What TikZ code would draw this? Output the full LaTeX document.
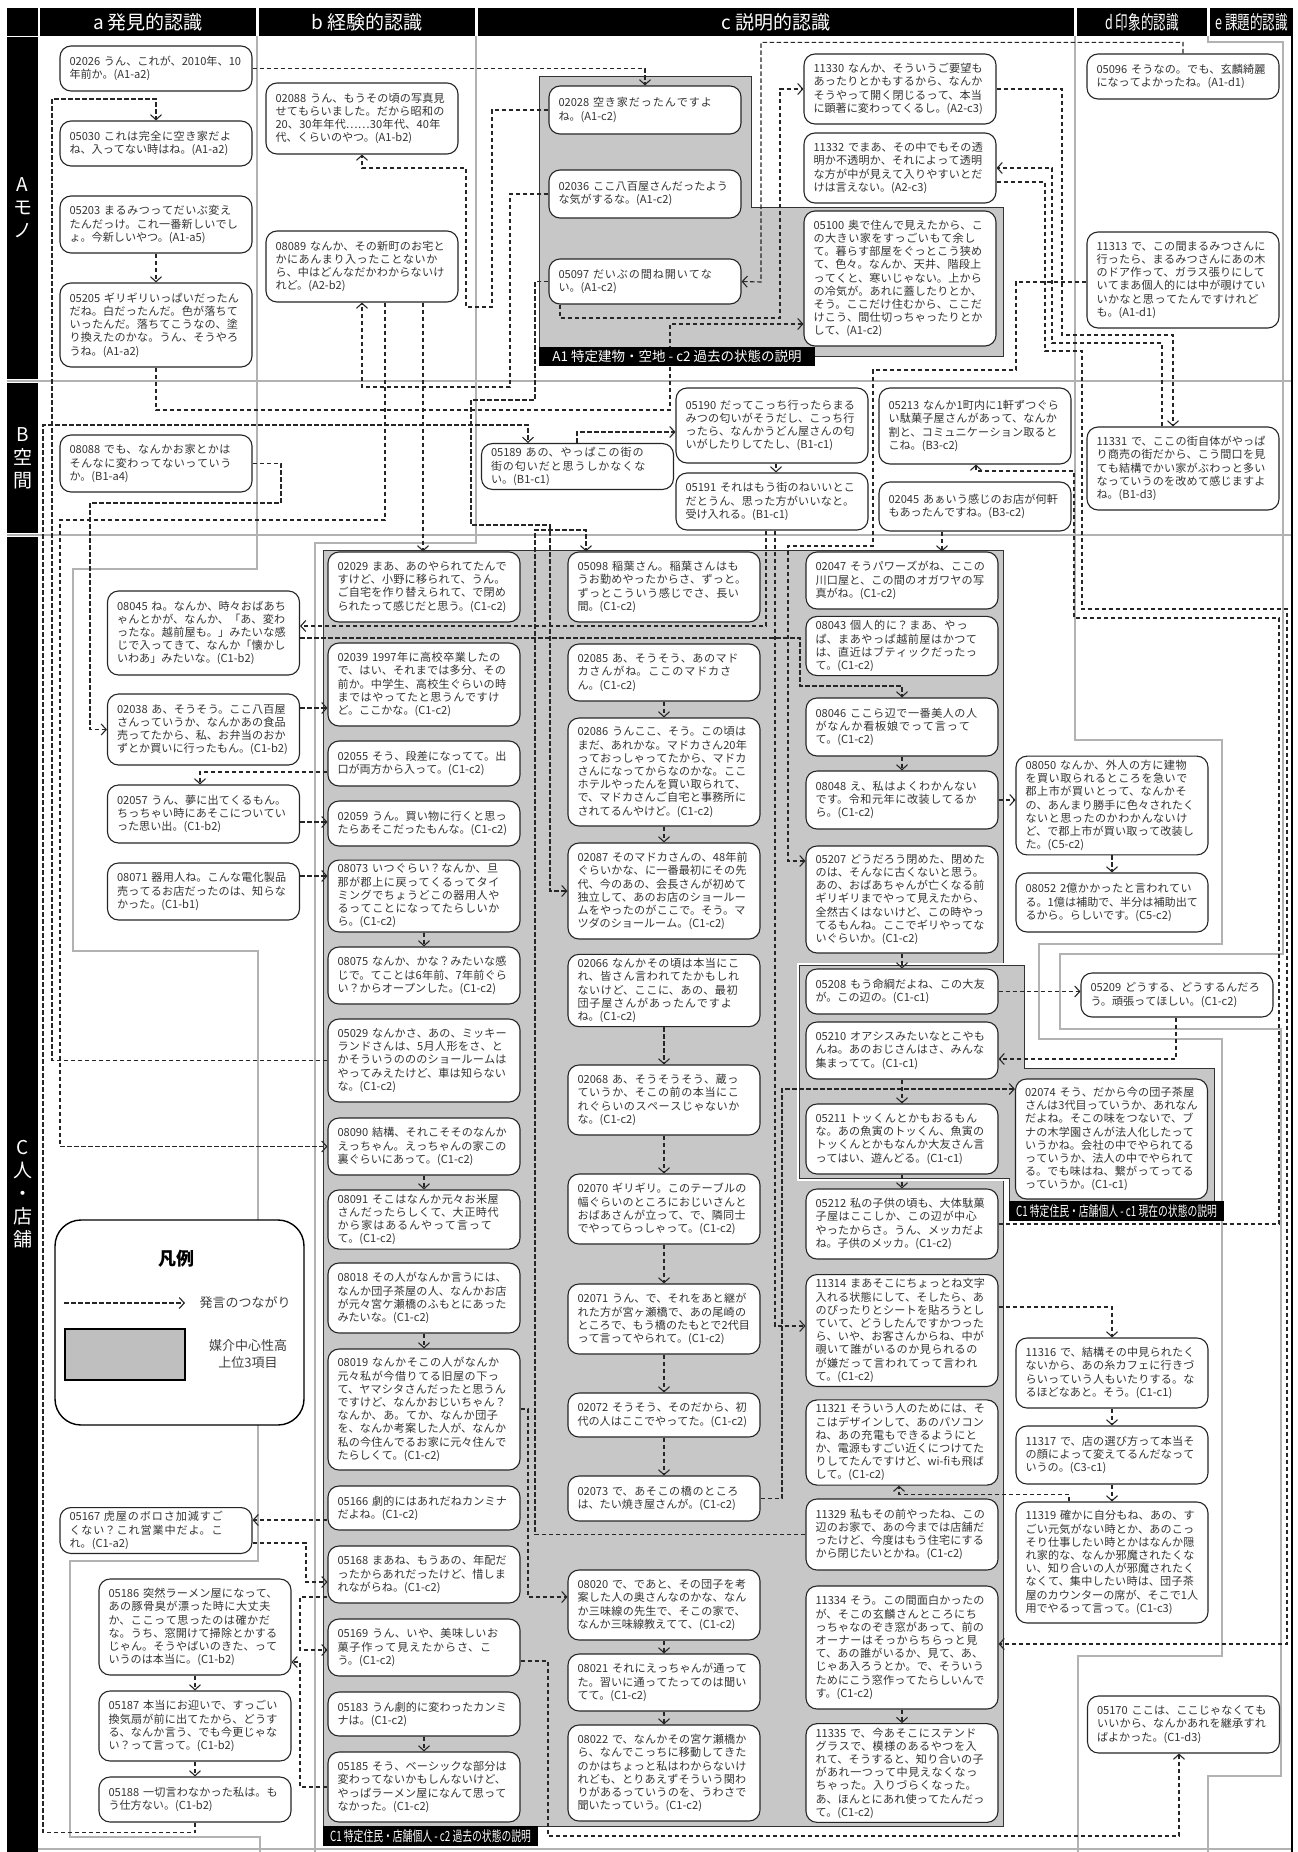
\documentclass[tikz,border=0pt]{standalone}
\usepackage{fontspec}
\setmainfont{Noto Sans CJK JP}
\usepackage{graphicx}
\usepackage{xcolor}
\usepackage{tikz}
\usetikzlibrary{arrows.meta}
\XeTeXlinebreaklocale "ja"
\XeTeXlinebreakskip=0pt plus 1pt
\pgfdeclarelayer{back}
\pgfdeclarelayer{links}
\pgfsetlayers{back,links,main}

\begin{document}
\begin{tikzpicture}[
    x=1pt, y=-1pt,
    utt/.style={draw=black!85, fill=white, rounded corners=11pt, line width=1.1pt, text width=173pt, inner xsep=9.5pt, inner ysep=4pt, align=left, text=black!80, font=\fontsize{11.1}{13.2}\selectfont},
    head/.style={fill=black, text=white, minimum height=28, inner sep=0pt, font=\fontsize{19}{19}\selectfont},
    rowhead/.style={fill=black, text=white, minimum width=31, inner sep=0pt, align=center, font=\fontsize{19}{23}\selectfont},
    tag/.style={fill=black, text=white, inner sep=0pt},
    region/.style={fill=black!22, draw=black!80, line width=0.9pt},
    lane/.style={draw=black!30, line width=2.4pt},
    conn/.style={draw=black!85, line width=1.1pt, dash pattern=on 4.5pt off 2.5pt, -{Straight Barb[length=5pt, width=11pt]}},
  ]
    \useasboundingbox (0,0) rectangle (1298,1852);

    % Lanes and regions
    \begin{pgfonlayer}{back}
    \draw[lane] (7,381) -- (1292,381);
    \draw[lane] (7,535) -- (1292,535);
    \draw[lane] (38,1849) -- (1292,1849);
    \draw[lane] (257,36) -- (257,569) -- (73,569) -- (73,951) -- (258,951) -- (258,1561) -- (70,1561) -- (70,1837) -- (260,1837) -- (260,1852);
    \draw[lane] (476,36) -- (476,543) -- (315,543) -- (315,1852);
    \draw[lane] (1075,36) -- (1075,740) -- (1222,740) -- (1222,944) -- (1039,944) -- (1039,1039) -- (1222,1039) -- (1222,1656) -- (1078,1656) -- (1078,1852);
    \draw[lane] (1208,36) -- (1208,42) -- (1283,42) -- (1283,954) -- (1060,954) -- (1060,1029) -- (1281,1029) -- (1281,1776) -- (1208,1776) -- (1208,1852);
    \draw[region] (539,76) -- (751,76) -- (751,207) -- (1003,207) -- (1003,356) -- (539,356) -- cycle;
    \draw[region] (323,550) rectangle (1003,1826);
    \draw[white, line width=5pt] (799,965) -- (1024,965) -- (1024,1068) -- (1214,1068) -- (1214,1203) -- (1009,1203) -- (1009,1178) -- (799,1178) -- cycle;
    \draw[region] (799,965) -- (1024,965) -- (1024,1068) -- (1214,1068) -- (1214,1203) -- (1009,1203) -- (1009,1178) -- (799,1178) -- cycle;
    \end{pgfonlayer}

    % Headers
    \node[head, minimum width=31] (hCorner) at (22.5,22) {};
    \node[head, minimum width=216] (hA) at (148,22) {a 発見的認識};
    \node[head, minimum width=216] (hB) at (367,22) {b 経験的認識};
    \node[head, minimum width=596] (hC) at (776,22) {c 説明的認識};
    \node[head, minimum width=130] (hD) at (1142,22) {\scalebox{0.66}[1]{d 印象的認識}};
    \node[head, minimum width=83] (hE) at (1251.5,22) {\scalebox{0.66}[1]{e 課題的認識}};
    \node[rowhead, minimum height=342] (rA) at (22.5,208) {A\\モ\\ノ};
    \node[rowhead, minimum height=150] (rB) at (22.5,458) {B\\空\\間};
    \node[rowhead, minimum height=1315] (rC) at (22.5,1194.5) {C\\人\\・\\店\\舗};
    \draw[line width=2.5pt] (1292,36) -- (1292,1852);

    % Region tags
    \node[tag, minimum width=276, minimum height=19, font=\fontsize{13.5}{13.5}\selectfont] (tA1) at (677,356.5) {A1 特定建物・空地 - c2 過去の状態の説明};
    \node[tag, minimum width=215, minimum height=20, font=\fontsize{14}{14}\selectfont] (tC1now) at (1116.5,1211) {\scalebox{0.7}[1]{C1 特定住民・店舗個人 - c1 現在の状態の説明}};
    \node[tag, minimum width=215, minimum height=20, font=\fontsize{14}{14}\selectfont] (tC1past) at (430.5,1836) {\scalebox{0.7}[1]{C1 特定住民・店舗個人 - c2 過去の状態の説明}};

    % Row A
    \node[utt, minimum height=45] (n02026) at (156,68.5) {02026 うん、これが、2010年、10年前か。\mbox{(A1-a2)}};
    \node[utt, minimum height=45] (n05030) at (156,143.5) {05030 これは完全に空き家だよね、入ってない時はね。\mbox{(A1-a2)}};
    \node[utt, minimum height=57] (n05203) at (156,224.5) {05203 まるみつってだいぶ変えたんだっけ。これ一番新しいでしょ。今新しいやつ。\mbox{(A1-a5)}};
    \node[utt, minimum height=84] (n05205) at (156,325) {05205 ギリギリいっぱいだったんだね。白だったんだ。色が落ちていったんだ。落ちてこうなの、塗り換えたのかな。うん、そうやろうね。\mbox{(A1-a2)}};
    \node[utt, minimum height=71] (n02088) at (362,118.5) {02088 うん、もうその頃の写真見せてもらいました。だから昭和の20、30年年代……30年代、40年代、くらいのやつ。\mbox{(A1-b2)}};
    \node[utt, minimum height=71] (n08089) at (362,266.5) {08089 なんか、その新町のお宅とかにあんまり入ったことないから、中はどんなだかわからないけれど。\mbox{(A2-b2)}};
    \node[utt, minimum height=48] (n02028) at (645,110) {02028 空き家だったんですよね。\mbox{(A1-c2)}};
    \node[utt, minimum height=48] (n02036) at (645,194) {02036 ここ八百屋さんだったような気がするな。\mbox{(A1-c2)}};
    \node[utt, minimum height=45] (n05097) at (645,281.5) {05097 だいぶの間ね開いてない。\mbox{(A1-c2)}};
    \node[utt, minimum height=70] (n11330) at (900,89) {11330 なんか、そういうご要望もあったりとかもするから、なんかそうやって開く閉じるって、本当に顕著に変わってくるし。\mbox{(A2-c3)}};
    \node[utt, minimum height=70] (n11332) at (900,168) {11332 でまあ、その中でもその透明か不透明か、それによって透明な方が中が見えて入りやすいとだけは言えない。\mbox{(A2-c3)}};
    \node[utt, minimum height=135] (n05100) at (900,278.5) {05100 奥で住んで見えたから、この大きい家をすっごいもて余して。暮らす部屋をぐっとこう狭めて、色々。なんか、天井、階段上ってくと、寒いじゃない。上からの冷気が。あれに蓋したりとか、そう。ここだけ住むから、ここだけこう、間仕切っちゃったりとかして、\mbox{(A1-c2)}};
    \node[utt, minimum height=45] (n05096) at (1183,76.5) {05096 そうなの。でも、玄麟綺麗になってよかったね。\mbox{(A1-d1)}};
    \node[utt, minimum height=96] (n11313) at (1183,280) {11313 で、この間まるみつさんに行ったら、まるみつさんにあの木のドア作って、ガラス張りにしていてまあ個人的には中が覗けていいかなと思ってたんですけれども。\mbox{(A1-d1)}};

    % Row B
    \node[utt, minimum height=57] (n08088) at (156,463.5) {08088 でも、なんかお家とかはそんなに変わってないっていうか。\mbox{(B1-a4)}};
    \node[utt, minimum height=45] (n05189) at (577.5,466.5) {05189 あの、やっぱこの街の街の匂いだと思うしかなくない。\mbox{(B1-c1)}};
    \node[utt, minimum height=75] (n05190) at (772,425.5) {05190 だってこっち行ったらまるみつの匂いがそうだし、こっち行ったら、なんかうどん屋さんの匂いがしたりしてたし、\mbox{(B1-c1)}};
    \node[utt, minimum height=57] (n05191) at (772,501.5) {05191 それはもう街のねいいとこだとうん、思った方がいいなと。受け入れる。\mbox{(B1-c1)}};
    \node[utt, minimum height=76] (n05213) at (975,426) {05213 なんか1町内に1軒ずつぐらい駄菓子屋さんがあって、なんか割と、コミュニケーション取るとこね。\mbox{(B3-c2)}};
    \node[utt, minimum height=49] (n02045) at (975,506.5) {02045 あぁいう感じのお店が何軒もあったんですね。\mbox{(B3-c2)}};
    \node[utt, minimum height=83] (n11331) at (1183,468.5) {11331 で、ここの街自体がやっぱり商売の街だから、こう間口を見ても結構でかい家がぶわっと多いなっていうのを改めて感じますよね。\mbox{(B1-d3)}};

    % Row C, b
    \node[utt, minimum height=84] (n08045) at (203.5,633) {08045 ね。なんか、時々おばあちゃんとかが、なんか、「あ、変わったな。越前屋も。」みたいな感じで入ってきて、なんか「懐かしいわあ」みたいな。\mbox{(C1-b2)}};
    \node[utt, minimum height=71] (n02038) at (203.5,729.5) {02038 あ、そうそう。ここ八百屋さんっていうか、なんかあの食品売ってたから、私、お弁当のおかずとか買いに行ったもん。\mbox{(C1-b2)}};
    \node[utt, minimum height=58] (n02057) at (203.5,814) {02057 うん、夢に出てくるもん。ちっちゃい時にあそこについていった思い出。\mbox{(C1-b2)}};
    \node[utt, minimum height=57] (n08071) at (203.5,891.5) {08071 器用人ね。こんな電化製品売ってるお店だったのは、知らなかった。\mbox{(C1-b1)}};
    \node[utt, minimum height=45] (n05167) at (156,1530.5) {05167 虎屋のボロさ加減すごくない？これ営業中だよ。これ。\mbox{(C1-a2)}};
    \node[utt, minimum height=96] (n05186) at (195,1627) {05186 突然ラーメン屋になって、あの豚骨臭が漂った時に大丈夫か、ここって思ったのは確かだな。うち、窓開けて掃除とかするじゃん。そうやばいのきた、っていうのは本当に。\mbox{(C1-b2)}};
    \node[utt, minimum height=70] (n05187) at (195,1726) {05187 本当にお迎いで、すっごい換気扇が前に出てたから、どうする、なんか言う、でも今更じゃない？って言って。\mbox{(C1-b2)}};
    \node[utt, minimum height=45] (n05188) at (195,1799.5) {05188 一切言わなかった私は。もう仕方ない。\mbox{(C1-b2)}};

    % Row C, c2 first column
    \node[utt, minimum height=70] (n02029) at (424,587) {02029 まあ、あのやられてたんですけど、小野に移られて、うん。ご自宅を作り替えられて、で閉められたって感じだと思う。\mbox{(C1-c2)}};
    \node[utt, minimum height=83] (n02039) at (424,684.5) {02039 1997年に高校卒業したので、はい、それまでは多分、その前か。中学生、高校生ぐらいの時まではやってたと思うんですけど。ここかな。\mbox{(C1-c2)}};
    \node[utt, minimum height=45] (n02055) at (424,763.5) {02055 そう、段差になってて。出口が両方から入って。\mbox{(C1-c2)}};
    \node[utt, minimum height=45] (n02059) at (424,823.5) {02059 うん。買い物に行くと思ったらあそこだったもんな。\mbox{(C1-c2)}};
    \node[utt, minimum height=70] (n08073) at (424,896) {08073 いつぐらい？なんか、旦那が郡上に戻ってくるってタイミングでちょうどこの器用人やるってことになってたらしいから。\mbox{(C1-c2)}};
    \node[utt, minimum height=57] (n08075) at (424,975.5) {08075 なんか、かな？みたいな感じで。てことは6年前、7年前ぐらい？からオープンした。\mbox{(C1-c2)}};
    \node[utt, minimum height=83] (n05029) at (424,1060.5) {05029 なんかさ、あの、ミッキーランドさんは、5月人形をさ、とかそういうのののショールームはやってみえたけど、車は知らないな。\mbox{(C1-c2)}};
    \node[utt, minimum height=57] (n08090) at (424,1146.5) {08090 結構、それこそそのなんかえっちゃん。えっちゃんの家この裏ぐらいにあって。\mbox{(C1-c2)}};
    \node[utt, minimum height=57] (n08091) at (424,1219.5) {08091 そこはなんか元々お米屋さんだったらしくて、大正時代から家はあるんやって言ってて。\mbox{(C1-c2)}};
    \node[utt, minimum height=70] (n08018) at (424,1298) {08018 その人がなんか言うには、なんか団子茶屋の人、なんかお店が元々宮ケ瀬橋のふもとにあったみたいな。\mbox{(C1-c2)}};
    \node[utt, minimum height=121] (n08019) at (424,1409.5) {08019 なんかそこの人がなんか元々私が今借りてる旧屋の下って、ヤマシタさんだったと思うんですけど、なんかおじいちゃん？なんか、あ。てか、なんか団子を、なんか考案した人が、なんか私の今住んでるお家に元々住んでたらしくて。\mbox{(C1-c2)}};
    \node[utt, minimum height=44] (n05166) at (424,1508) {05166 劇的にはあれだねカンミナだよね。\mbox{(C1-c2)}};
    \node[utt, minimum height=57] (n05168) at (424,1574.5) {05168 まあね、もうあの、年配だったからあれだったけど、惜しまれながらね。\mbox{(C1-c2)}};
    \node[utt, minimum height=57] (n05169) at (424,1647.5) {05169 うん、いや、美味しいお菓子作って見えたからさ、こう。\mbox{(C1-c2)}};
    \node[utt, minimum height=44] (n05183) at (424,1714) {05183 うん劇的に変わったカンミナは。\mbox{(C1-c2)}};
    \node[utt, minimum height=70] (n05185) at (424,1787) {05185 そう、ベーシックな部分は変わってないかもしんないけど、やっぱラーメン屋になんて思ってなかった。\mbox{(C1-c2)}};

    % Row C, c2 second column
    \node[utt, minimum height=70] (n05098) at (664,587) {05098 稲葉さん。稲葉さんはもうお勤めやったからさ、ずっと。ずっとこういう感じでさ、長い間。\mbox{(C1-c2)}};
    \node[utt, minimum height=57] (n02085) at (664,672.5) {02085 あ、そうそう、あのマドカさんがね。ここのマドカさん。\mbox{(C1-c2)}};
    \node[utt, minimum height=108] (n02086) at (664,772) {02086 うんここ、そう。この頃はまだ、あれかな。マドカさん20年っておっしゃってたから、マドカさんになってからなのかな。ここホテルやったんを買い取られて、で、マドカさんご自宅と事務所にされてるんやけど。\mbox{(C1-c2)}};
    \node[utt, minimum height=96] (n02087) at (664,891) {02087 そのマドカさんの、48年前ぐらいかな、に一番最初にその先代、今のあの、会長さんが初めて独立して、あのお店のショールームをやったのがここで。そう。マツダのショールーム。\mbox{(C1-c2)}};
    \node[utt, minimum height=71] (n02066) at (664,990.5) {02066 なんかその頃は本当にこれ、皆さん言われてたかもしれないけど、ここに、あの、最初団子屋さんがあったんですよね。\mbox{(C1-c2)}};
    \node[utt, minimum height=70] (n02068) at (664,1100) {02068 あ、そうそうそう、蔵っていうか、そこの前の本当にこれぐらいのスペースじゃないかな。\mbox{(C1-c2)}};
    \node[utt, minimum height=70] (n02070) at (664,1209) {02070 ギリギリ。このテーブルの幅ぐらいのところにおじいさんとおばあさんが立って、で、隣同士でやってらっしゃって。\mbox{(C1-c2)}};
    \node[utt, minimum height=70] (n02071) at (664,1319) {02071 うん、で、それをあと継がれた方が宮ヶ瀬橋で、あの尾崎のところで、もう橋のたもとで2代目って言ってやられて。\mbox{(C1-c2)}};
    \node[utt, minimum height=44] (n02072) at (664,1415) {02072 そうそう、そのだから、初代の人はここでやってた。\mbox{(C1-c2)}};
    \node[utt, minimum height=45] (n02073) at (664,1498.5) {02073 で、あそこの橋のところは、たい焼き屋さんが。\mbox{(C1-c2)}};
    \node[utt, minimum height=70] (n08020) at (664,1605) {08020 で、であと、その団子を考案した人の奥さんなのかな、なんか三味線の先生で、そこの家で、なんか三味線教えてて、\mbox{(C1-c2)}};
    \node[utt, minimum height=57] (n08021) at (664,1682.5) {08021 それにえっちゃんが通ってた。習いに通ってたってのは聞いてて。\mbox{(C1-c2)}};
    \node[utt, minimum height=96] (n08022) at (664,1773) {08022 で、なんかその宮ケ瀬橋から、なんでこっちに移動してきたのかはちょっと私はわからないけれども、とりあえずそういう関わりがあるっていうのを、うわさで聞いたっていう。\mbox{(C1-c2)}};

    % Row C, third column
    \node[utt, minimum height=57] (n02047) at (902,580.5) {02047 そうパワーズがね、ここの川口屋と、この間のオガワヤの写真がね。\mbox{(C1-c2)}};
    \node[utt, minimum height=58] (n08043) at (902,646) {08043 個人的に？まあ、やっぱ、まあやっぱ越前屋はかつては、直近はブティックだったって。\mbox{(C1-c2)}};
    \node[utt, minimum height=58] (n08046) at (902,727) {08046 ここら辺で一番美人の人がなんか看板娘でって言ってて。\mbox{(C1-c2)}};
    \node[utt, minimum height=58] (n08048) at (902,800) {08048 え、私はよくわかんないです。令和元年に改装してるから。\mbox{(C1-c2)}};
    \node[utt, minimum height=107] (n05207) at (902,899.5) {05207 どうだろう閉めた、閉めたのは、そんなに古くないと思う。あの、おばあちゃんが亡くなる前ギリギリまでやって見えたから、全然古くはないけど、この時やってるもんね。ここでギリやってないぐらいか。\mbox{(C1-c2)}};
    \node[utt, minimum height=45] (n05208) at (902,991.5) {05208 もう命綱だよね、この大友が。この辺の。\mbox{(C1-c1)}};
    \node[utt, minimum height=57] (n05210) at (902,1050.5) {05210 オアシスみたいなとこやもんね。あのおじさんはさ、みんな集まってて。\mbox{(C1-c1)}};
    \node[utt, minimum height=70] (n05211) at (902,1139) {05211 トッくんとかもおるもんな。あの魚寅のトッくん、魚寅のトッくんとかもなんか大友さん言ってはい、遊んどる。\mbox{(C1-c1)}};
    \node[utt, minimum height=70] (n05212) at (902,1224) {05212 私の子供の頃も、大体駄菓子屋はここしか、この辺が中心やったからさ。うん、メッカだよね。子供のメッカ。\mbox{(C1-c2)}};
    \node[utt, minimum height=109] (n11314) at (902,1330.5) {11314 まあそこにちょっとね文字入れる状態にして、そしたら、あのぴったりとシートを貼ろうとしていて、どうしたんですかつったら、いや、お客さんからね、中が覗いて誰がいるのか見られるのが嫌だって言われてって言われて。\mbox{(C1-c2)}};
    \node[utt, minimum height=83] (n11321) at (902,1442.5) {11321 そういう人のためには、そこはデザインして、あのパソコンね、あの充電もできるようにとか、電源もすごい近くにつけてたりしてたんですけど、wi-fiも飛ばして。\mbox{(C1-c2)}};
    \node[utt, minimum height=71] (n11329) at (902,1534.5) {11329 私もその前やったね、この辺のお家で、あの今までは店舗だったけど、今度はもう住宅にするから閉じたいとかね。\mbox{(C1-c2)}};
    \node[utt, minimum height=123] (n11334) at (902,1647.5) {11334 そう。この間面白かったのが、そこの玄麟さんところにちっちゃなのぞき窓があって、前のオーナーはそっからちらっと見て、あの誰がいるか、見て、あ、じゃあ入ろうとか。で、そういうためにこう窓作ってたらしいんです。\mbox{(C1-c2)}};
    \node[utt, minimum height=96] (n11335) at (902,1773) {11335 で、今あそこにステンドグラスで、模様のあるやつを入れて、そうすると、知り合いの子があれ一つって中見えなくなっちゃった。入りづらくなった。あ、ほんとにあれ使ってたんだって。\mbox{(C1-c2)}};

    % Row C, right columns
    \node[utt, minimum height=95] (n08050) at (1112,805.5) {08050 なんか、外人の方に建物を買い取られるところを急いで郡上市が買いとって、なんかその、あんまり勝手に色々されたくないと思ったのかわかんないけど、で郡上市が買い取って改装した。\mbox{(C5-c2)}};
    \node[utt, minimum height=59] (n08052) at (1112,902.5) {08052 2億かかったと言われている。1億は補助で、半分は補助出てるから。らしいです。\mbox{(C5-c2)}};
    \node[utt, minimum height=44] (n05209) at (1177,995) {05209 どうする、どうするんだろう。頑張ってほしい。\mbox{(C1-c2)}};
    \node[utt, minimum height=120] (n02074) at (1111.5,1139) {02074 そう、だから今の団子茶屋さんは3代目っていうか、あれなんだよね。そこの味をつないで、ブナの木学園さんが法人化したっていうかね。会社の中でやられてるっていうか、法人の中でやられてる。でも味はね、繋がってってるっていうか。\mbox{(C1-c1)}};
    \node[utt, minimum height=70] (n11316) at (1112,1373) {11316 で、結構その中見られたくないから、あの糸カフェに行きづらいっていう人もいたりする。なるほどなあと。そう。\mbox{(C1-c1)}};
    \node[utt, minimum height=58] (n11317) at (1112,1455) {11317 で、店の選び方って本当その顔によって変えてるんだなっていうの。\mbox{(C3-c1)}};
    \node[utt, minimum height=121] (n11319) at (1112,1562.5) {11319 確かに自分もね、あの、すごい元気がない時とか、あのこっそり仕事したい時とかはなんか隠れ家的な、なんか邪魔されたくない、知り合いの人が邪魔されたくなくて、集中したい時は、団子茶屋のカウンターの席が、そこで1人用でやるって言って。\mbox{(C1-c3)}};
    \node[utt, minimum height=57] (n05170) at (1183.5,1724.5) {05170 ここは、ここじゃなくてもいいから、なんかあれを継承すればよかった。\mbox{(C1-d3)}};

    % Legend
    \node[draw, fill=white, line width=1.4pt, rounded corners=26pt, minimum width=249, minimum height=205] (legend) at (179.5,1322.5) {};
    \node[font=\fontsize{18}{18}\selectfont\bfseries] (lgTitle) at (176,1259) {凡例};
    \coordinate (lgA) at (64,1303);
    \coordinate (lgB) at (185,1303);
    \draw[conn] (lgA) -- (lgB);
    \node[anchor=west, text=black!75, font=\fontsize{13}{13}\selectfont] (lgConn) at (196,1303) {発言のつながり};
    \node[draw, fill=black!25, line width=1.2pt, minimum width=120, minimum height=51] (lgBox) at (125,1354.5) {};
    \node[align=center, text=black!75, font=\fontsize{13}{17}\selectfont] (lgBoxText) at (248,1354) {媒介中心性高\\上位3項目};

    % Arrows
    \begin{pgfonlayer}{links}
    % row A
    \draw[conn] (n02026.east) -| (n02028.north);
    \draw[conn] (n05096.north) -- ++(0,-11) -| (761,282) -- (n05097.east);
    \draw[conn] (n05029.west) -| (52,99) -| (n05030.north);
    \draw[conn] (n05203) -- (n05205);
    \draw[conn] (n05205.south) -- (156,410) -| (670,324) -- (n05100.west |- 670,324);
    \draw[conn] (n02028.west) -- (492,110) -- (492,307) -- (466,307) -- (466,168) -| (n02088.south);
    \draw[conn] (n02036.west) -| (510,387) -| (n08089.south);
    \draw[conn] (n05097.south -| 560,0) -- (560,318) -| (780,89) -- (n11330.west);
    \draw[conn] (n05097.west) -- (535,281.5) -- (535,400) -- (471,400) -- (471,525) -- (550,525) |- (n02087.west);
    \draw[conn] (n11330.east) -- (1062,89) |- (1173,335) -- (n11331.north -| 1173,0);
    \draw[conn] (n11331.north -| 1162,0) |- (1052,343) |- (n11332.east |- 0,168);
    \draw[conn] (n11332.east |- 0,182) -- (1045,182) -- (1045,351) -- (1082,351) -- (1082,609) -- (1287,609) |- (n11334.east |- 0,1644);
    \draw[conn] (n11313.west |- 0,282) -- (1016,282) -- (1016,370) -- (873,370) -- (873,546) -- (788,546) |- (n05207.west |- 0,861);
    % row B
    \draw[conn] (n05212.east) -- (1279,1224) -- (1279,618) -- (1074,618) -- (1074,471) -| (n05213.south -| 976,0);
    \draw[conn] (n05188.south) -- ++(0,10) -| (43,425) -| (n05189.north -| 528,0);
    \draw[conn] (n08088.east) -| (281,503) -| (90,729.5) -- (n02038.west);
    \draw[conn] (n08089.south -| 423,0) -- (n02029.north -| 423,0);
    \draw[conn] (n08089.south -| 385,0) -- (385,520) -| (60,1146.5) -- (n08090.west);
    \draw[conn] (n05189.north -| 577,0) -- (577,432) -- (n05190.west |- 0,432);
    \draw[conn] (n05190.south -| 776,0) -- (n05191.north -| 776,0);
    \draw[conn] (n05191.south -| 766,0) -- (766,626) -- (n08045.east |- 0,626);
    \draw[conn] (n05191.south -| 775,0) -- (775,1326) -- (n11314.west |- 0,1326);
    \draw[conn] (n02045.south -| 942,0) -- (n02047.north -| 942,0);
    % row C
    \draw[conn] (n08045.east |- 0,638) -- (800,638) -- (800,686) -| (n08046.north);
    \draw[conn] (n02038.east |- 0,708) -- (n02039.west |- 0,708);
    \draw[conn] (n02055.west |- 0,772) -| (n02057.north -| 200,0);
    \draw[conn] (n02057.east |- 0,822) -- (n02059.west |- 0,822);
    \draw[conn] (n08071.east |- 0,876) -- (n08073.west |- 0,876);
    \draw[conn] (n08073) -- (n08075);
    \draw[conn] (n08090) -- (n08091);
    \draw[conn] (n08018) -- (n08019);
    \draw[conn] (n05183) -- (n05185);
    \draw[conn] (n05166.west |- 0,1520) -- (n05167.east |- 0,1520);
    \draw[conn] (n05167.east |- 0,1543) -- (306,1543) |- (n05168.west |- 0,1582);
    \draw[conn] (n05168.west |- 0,1597) -- (300,1597) |- (n05169.west |- 0,1650);
    \draw[conn] (n05185.west) -- (300,1787) |- (n05186.east |- 0,1662);
    \draw[conn] (n05186) -- (n05187);
    \draw[conn] (n05187) -- (n05188);
    \draw[conn] (n08019.east |- 0,1409) -- (528,1409) |- (n08020.west |- 0,1597);
    \draw[conn] (n05169.east |- 0,1661) -- (548,1661) -- (548,1836) -| (n05170.south -| 1179,0);
    \draw[conn] (n11329.west) -- (535,1534.5) -- (535,530) -| (n05098.north -| 586,0);
    \draw[conn] (n02085) -- (n02086);
    \draw[conn] (n02086) -- (n02087);
    \draw[conn] (n02066) -- (n02068);
    \draw[conn] (n02068) -- (n02070);
    \draw[conn] (n02070) -- (n02071);
    \draw[conn] (n02071) -- (n02072);
    \draw[conn] (n02072) -- (n02073);
    \draw[conn] (n08020) -- (n08021);
    \draw[conn] (n08021) -- (n08022);
    \draw[conn] (n02073.east) -- (782,1498.5) -- (782,1089) -- (n02074.west |- 0,1089);
    \draw[conn] (n08046) -- (n08048);
    \draw[conn] (n05207) -- (n05208);
    \draw[conn] (n05210) -- (n05211);
    \draw[conn] (n05211) -- (n05212);
    \draw[conn] (n11334) -- (n11335);
    \draw[conn] (n05208.east) -- (n05209.west |- n05208.east);
    \draw[conn] (n05209.south -| 1176,0) |- (n05210.east |- 0,1059);
    \draw[conn] (n08048.east) -- (n08050.west |- n08048.east);
    \draw[conn] (n08050) -- (n08052);
    \draw[conn] (n11314.east |- 0,1307) -| (n11316.north);
    \draw[conn] (n11316) -- (n11317);
    \draw[conn] (n11317) -- (n11319);
    \draw[conn] (n11319.north -| 1069,0) -- ++(0,-7) -| (n11321.south -| 899,0);
    \end{pgfonlayer}

  \end{tikzpicture}
\end{document}
